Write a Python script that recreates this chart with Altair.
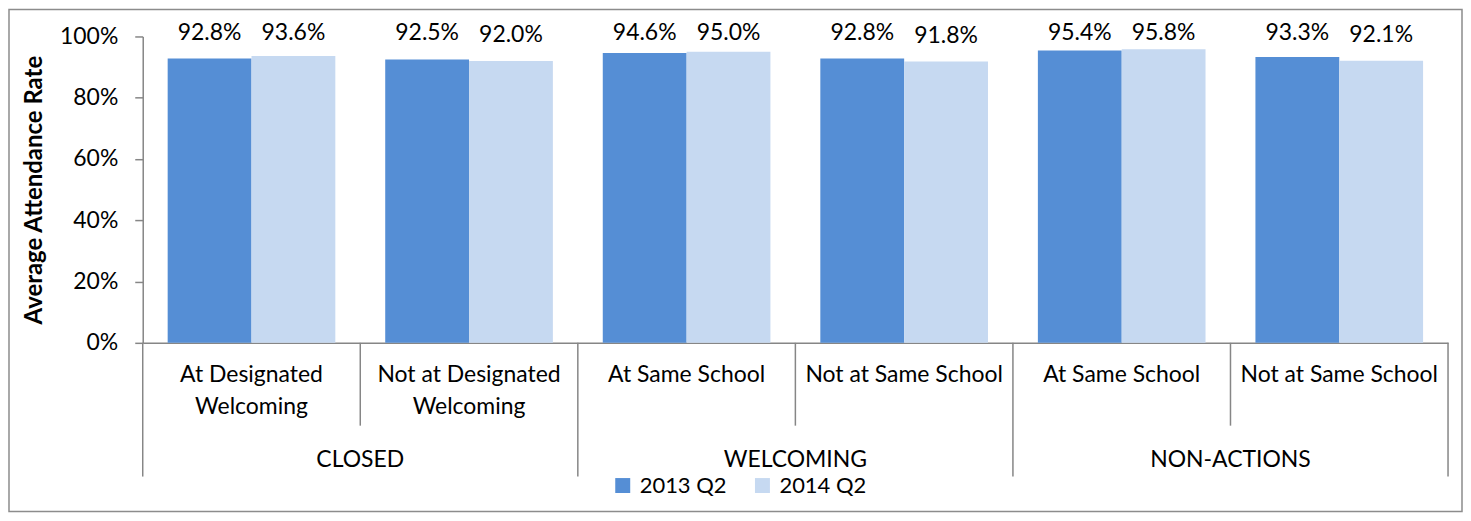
import altair as alt
import pandas as pd

groups = ["CLOSED", "CLOSED", "WELCOMING", "WELCOMING", "NON-ACTIONS", "NON-ACTIONS"]
subcats = ["At Designated\nWelcoming", "Not at Designated\nWelcoming", "At Same School",
           "Not at Same School", "At Same School", "Not at Same School"]
series = ["2013 Q2", "2014 Q2"]
v2013 = [0.928, 0.925, 0.946, 0.928, 0.954, 0.933]
v2014 = [0.936, 0.920, 0.950, 0.918, 0.958, 0.921]
colors = ["#558ED5", "#C6D9F1"]

keys = [f"c{i}" for i in range(len(subcats))]
bars = pd.DataFrame({
    "key": keys * 2,
    "series": [series[0]] * len(keys) + [series[1]] * len(keys),
    "value": v2013 + v2014,
})
cats = pd.DataFrame({"key": keys, "sub": subcats, "group": groups})
group_mid = pd.DataFrame({"key": ["c1", "c3", "c5"], "group": ["CLOSED", "WELCOMING", "NON-ACTIONS"]})
group_start = pd.DataFrame({"key": ["c0", "c2", "c4"]})
group_end = pd.DataFrame({"key": ["c5"]})
inner = pd.DataFrame({"key": ["c1", "c3", "c5"]})
one = pd.DataFrame({"a": [0]})

FONT = "Lato"
FS = 23
GRAY = "#868686"
W, H = 1308, 307
LABEL_CAP = 0.928  # labels are kept inside the plot area, like Excel's outside-end labels

xscale = alt.Scale(domain=keys, paddingInner=0, paddingOuter=0)
yscale = alt.Scale(domain=[0, 1])
xoff = alt.XOffset("series:N", scale=alt.Scale(domain=series, paddingInner=0, paddingOuter=0.2976))
xaxis = alt.Axis(labels=False, ticks=False, grid=False, title=None, domainColor=GRAY, domainWidth=1.5)
yaxis = alt.Axis(format="%", values=[0, 0.2, 0.4, 0.6, 0.8, 1.0], grid=False,
                 tickSize=8, tickColor=GRAY, domainColor=GRAY, tickWidth=1.5, domainWidth=1.5,
                 labelFont=FONT, labelFontSize=FS, labelColor="#000", labelPadding=17,
                 title="Average Attendance Rate", titleFont=FONT, titleFontSize=24,
                 titleFontWeight="bold", titleColor="#000", titlePadding=13)

bar_layer = alt.Chart(bars).mark_bar().encode(
    x=alt.X("key:N", scale=xscale, axis=xaxis),
    xOffset=xoff,
    y=alt.Y("value:Q", scale=yscale, axis=yaxis),
    color=alt.Color("series:N", scale=alt.Scale(domain=series, range=colors),
                    legend=alt.Legend(orient="none", legendX=470, legendY=439, direction="horizontal",
                                      title=None, symbolType="square", symbolSize=225,
                                      symbolStrokeWidth=0, labelFont=FONT, labelFontSize=22,
                                      labelColor="#000", columnPadding=24, labelOffset=6)),
)

label_layer = alt.Chart(bars).transform_calculate(
    pos=f"min(datum.value, {LABEL_CAP})"
).mark_text(font=FONT, fontSize=FS, baseline="alphabetic", dy=-19, color="#000").encode(
    x=alt.X("key:N", scale=xscale, axis=xaxis),
    xOffset=xoff,
    y=alt.Y("pos:Q", scale=yscale, axis=yaxis),
    text=alt.Text("value:Q", format=".1%"),
)

sub_layer = alt.Chart(cats).mark_text(font=FONT, fontSize=FS, baseline="top", lineBreak="\n",
                                      lineHeight=32, color="#000").encode(
    x=alt.X("key:N", scale=xscale, axis=xaxis),
    y=alt.value(H + 21),
    text="sub:N",
)

group_layer = alt.Chart(group_mid).mark_text(font=FONT, fontSize=FS, baseline="middle", color="#000").encode(
    x=alt.X("key:N", scale=xscale, axis=xaxis, bandPosition=0),
    y=alt.value(H + 117),
    text="group:N",
)

inner_rules = alt.Chart(inner).mark_rule(color=GRAY, strokeWidth=1.5).encode(
    x=alt.X("key:N", scale=xscale, axis=xaxis, bandPosition=0),
    y=alt.value(H), y2=alt.value(H + 83),
)
gstart_rules = alt.Chart(group_start).mark_rule(color=GRAY, strokeWidth=1.5).encode(
    x=alt.X("key:N", scale=xscale, axis=xaxis, bandPosition=0),
    y=alt.value(H), y2=alt.value(H + 134),
)
gend_rules = alt.Chart(group_end).mark_rule(color=GRAY, strokeWidth=1.5).encode(
    x=alt.X("key:N", scale=xscale, axis=xaxis, bandPosition=1),
    y=alt.value(H), y2=alt.value(H + 134),
)

border = alt.Chart(one).mark_rect(filled=False, stroke="#8c8c8c", strokeWidth=1.5).encode(
    x=alt.value(-134), x2=alt.value(1322), y=alt.value(-27), y2=alt.value(476),
)

chart = alt.layer(
    border, bar_layer, label_layer, sub_layer, group_layer, inner_rules, gstart_rules, gend_rules
).properties(
    width=W, height=H, padding=0,
    view=alt.ViewBackground(strokeOpacity=0, strokeWidth=0),
).configure_view(stroke="transparent", strokeOpacity=0, strokeWidth=0).configure(background="white")

chart.save("out.html", embed_options={"renderer": "svg", "actions": False})
